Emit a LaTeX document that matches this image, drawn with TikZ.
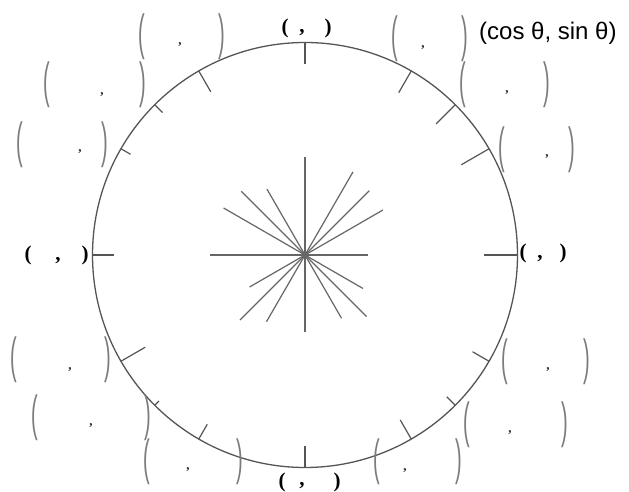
\documentclass[tikz,border=0pt]{standalone}
\usepackage{fontspec}
\usepackage{graphicx}
\newfontfamily\labelsans{Liberation Sans}
\newfontfamily\labelserif{Liberation Serif}
\usetikzlibrary{calc}
\definecolor{circ}{HTML}{555555}
\definecolor{rayc}{HTML}{666666}
\definecolor{parc}{HTML}{7C7C7C}
\definecolor{commac}{HTML}{222222}
\newcommand{\tallleft}{\scalebox{0.95}[2.35]{(}}
\newcommand{\tallright}{\scalebox{0.95}[2.35]{)}}
\tikzset{
  rim/.style={draw=circ, line width=1.3pt, circle, minimum size=425pt, inner sep=0pt, outer sep=0pt},
  tickline/.style={draw=circ, line width=1.2pt},
  rayline/.style={draw=rayc, line width=1.2pt},
  bigparen/.style={inner sep=0pt, text=parc, font=\labelsans\fontsize{21}{24}\selectfont},
  smallcomma/.style={inner sep=0pt, text=commac, font=\labelserif\fontsize{13}{15}\selectfont\bfseries},
  boldpart/.style={inner sep=0pt, text=black, font=\labelserif\fontsize{21}{24}\selectfont\bfseries},
  sanslabel/.style={inner sep=0pt, anchor=west, text=black, font=\labelsans\fontsize{24}{28}\selectfont}
}
\begin{document}
\begin{tikzpicture}[x=1pt,y=1pt]
\fill[white] (0,0) rectangle (629,491);
\useasboundingbox (0,0) rectangle (629,491);
\coordinate (O) at (305,236);
\node[rim] (C) at (O) {};
% ticks on the circle
\foreach \ang/\len in {0/34,30/32,45/27,60/25,90/22,120/24,135/11,150/11,180/21,210/28,225/6,240/17,270/22,300/22,315/12,330/19}
  \draw[tickline] (C.\ang) -- ($(C.\ang)!\len pt!(O)$);
% star of rays
\foreach \ang/\len in {0/63,30/90,45/91,60/96,90/98,120/76,135/90,150/94,180/95,210/64,225/92,240/77,270/77,300/73,315/87,330/67}
  \draw[rayline] (O) -- ++(\ang:\len);
% bold labels at the axes
\foreach \n/\xl/\xc/\xr/\yy/\yc in {T/285/302/328/463/458, Bt/282/302/337/9/5, Lf/28/58/85/236/230, Rt/523/540/563/238/232}
{
  \node[boldpart] (\n-l) at (\xl,\yy) {(};
  \node[boldpart] (\n-c) at (\xc,\yc) {,};
  \node[boldpart] (\n-r) at (\xr,\yy) {)};
}
% large gray labels
\foreach \n/\xl/\xc/\xr/\yy/\yc in {A/142/180/222/454.5/446, B/47/102/143/406/396, C2/20/80/105/346.5/339, D/395/423/465/452.5/443, E/463/507/547/406/398, F/502/547/572/341.5/334, G/14/70/108/131/121, H/35/91/148/73.5/65, I/147/188/240/29.5/21, J/505/548/587/129.5/121, K/467/510/565/66.5/58, L/377/405/459/29.5/20}
{
  \node[bigparen] (\n-l) at (\xl,\yy) {\tallleft};
  \node[smallcomma] (\n-c) at (\xc,\yc) {,};
  \node[bigparen] (\n-r) at (\xr,\yy) {\tallright};
}
\node[sanslabel] (cs) at (479,458) {(cos θ, sin θ)};
\end{tikzpicture}
\end{document}
